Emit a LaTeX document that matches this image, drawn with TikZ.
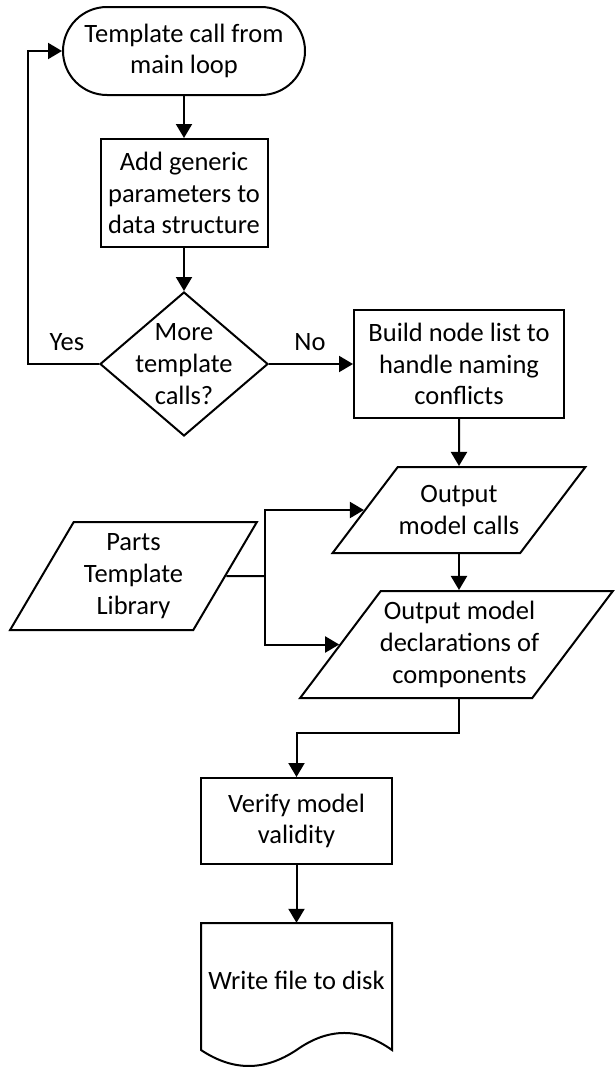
\documentclass[tikz,border=0pt]{standalone}
\usepackage{fontspec}
\setmainfont{Carlito}
\usetikzlibrary{shapes.geometric,arrows.meta,calc}
\begin{document}
\begin{tikzpicture}[x=1pt,y=-1pt,
  every node/.style={font=\fontsize{26.5}{31.7}\selectfont, align=center, inner sep=0pt},
  base/.style={draw, line width=2pt},
  termbox/.style={base, rectangle, rounded corners=44pt, minimum width=242pt, minimum height=88pt},
  procbox/.style={base, rectangle},
  decbox/.style={base, diamond, minimum width=168pt, minimum height=144pt},
  iobox/.style={base, trapezium, trapezium left angle=63.5, trapezium right angle=116.5, trapezium stretches=true, inner sep=3pt},
  conn/.style={line width=2pt},
  arr/.style={conn, -{Triangle[length=14pt,width=16pt]}},
]
\useasboundingbox (0,0) rectangle (614,1068);

\node[termbox] (term) at (184,51) {Template call from\\main loop};
\node[procbox, minimum width=167pt, minimum height=108pt] (box1) at (184,193) {Add generic\\parameters to\\data structure};
\node[decbox] (dia) at (184,364) {};
\node (diatext) at (dia.center) {More\\template\\calls?};
\node[procbox, minimum width=210pt, minimum height=108pt] (box2) at (459,364) {Build node list to\\handle naming\\conflicts};
\node[iobox, minimum width=253pt, minimum height=86pt] (calls) at (459,510) {\phantom{x}};
\node (callstext) at (calls.center) {Output\\model calls};
\node[iobox, minimum width=247pt, minimum height=108pt] (parts) at (133.5,576) {\phantom{x}};
\node (partstext) at (parts.center) {Parts\\Template\\Library};
\node[iobox, minimum width=313pt, minimum height=107pt] (decl) at (456.5,644.5) {\phantom{x}};
\node (decltext) at ([xshift=3pt]decl.center) {Output model\\declarations of\\components};
\node[procbox, minimum width=191pt, minimum height=86pt] (verify) at (296.5,821) {Verify model\\validity};
\node[minimum width=191pt, minimum height=114pt] (doc) at (296.5,980) {Write file to disk};
\draw[base] (201,923) -- (392,923) -- (392,1050)
  .. controls (360,1027.3) and (328.5,1027.3) .. (296.5,1050)
  .. controls (264.5,1071.3) and (233,1071.3) .. (201,1050) -- cycle;

\node (yes) at (67,342) {Yes};
\node (no) at (310,342) {No};

\coordinate (loop) at (28,364);
\coordinate (jn) at (265,576);
\coordinate (bend) at (296.5,733);

\draw[arr] (term.south) -- (box1.north);
\draw[arr] (box1.south) -- (dia.north);
\draw[arr] (dia.west) -- (loop) |- (term.west);
\draw[arr] (dia.east) -- (box2.west);
\draw[arr] (box2.south) -- (calls.north);
\draw[arr] (calls.south) -- (calls.south |- decl.north);
\draw[conn] (parts.east) -- (jn);
\draw[arr] (jn) |- (calls.west);
\draw[arr] (jn) |- (decl.west);
\draw[arr] (calls.south |- decl.south) |- (bend) -- (verify.north);
\draw[arr] (verify.south) -- (doc.north);
\end{tikzpicture}
\end{document}
